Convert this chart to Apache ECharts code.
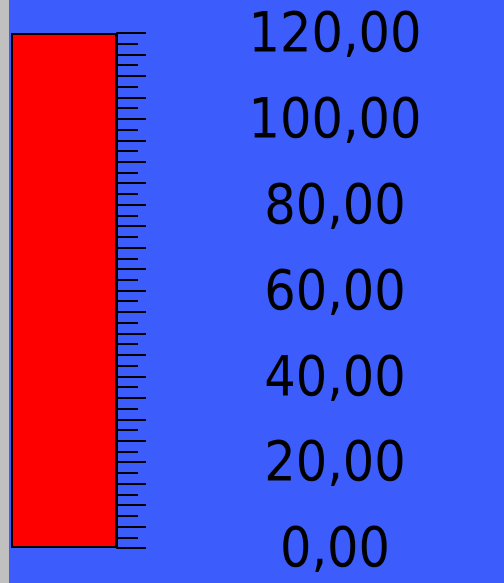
<!DOCTYPE html>
<html><head><meta charset="utf-8">
<script src="https://cdn.jsdelivr.net/npm/echarts@6/dist/echarts.min.js"></script>
<style>html,body{margin:0;padding:0;background:#3c5cfb;}#c{width:504px;height:583px;}</style>
</head><body><div id="c"></div>
<script>
var categories = ['Level'];
var values = [120];
var axisMin = 0, axisMax = 120, tickStep = 5, labelStep = 20;

var chart = echarts.init(document.getElementById('c'), null, {renderer: 'canvas'});
chart.setOption({
  backgroundColor: '#3c5cfb',
  animation: false,
  graphic: [{type: 'rect', left: 0, top: 0, shape: {width: 9, height: 583}, style: {fill: '#c0c0c0'}, z: 0}],
  grid: {left: 11, top: 33, width: 106, bottom: 35},
  xAxis: {type: 'category', data: categories, show: false},
  yAxis: {
    type: 'value', position: 'right', min: axisMin, max: axisMax, interval: tickStep,
    splitLine: {show: false},
    axisLine: {show: true, lineStyle: {color: '#000', width: 2}},
    axisTick: {show: true, length: 29, lineStyle: {color: '#000', width: 2}},
    minorTick: {show: true, splitNumber: 2, length: 21, lineStyle: {color: '#000', width: 2}},
    axisLabel: {
      margin: 218, align: 'center', color: '#000',
      formatter: function (v) { return v % labelStep === 0 ? '{t|' + v.toFixed(2).replace('.', ',') + '}' : ''; },
      rich: {t: {fontFamily: 'DejaVu Sans Condensed', fontSize: 55, color: '#000', padding: [8, 0, 0, 0]}}
    }
  },
  series: [{
    type: 'bar', data: values, barWidth: '100%',
    itemStyle: {color: '#ff0000', borderColor: '#000', borderWidth: 2}
  }]
});
</script></body></html>
